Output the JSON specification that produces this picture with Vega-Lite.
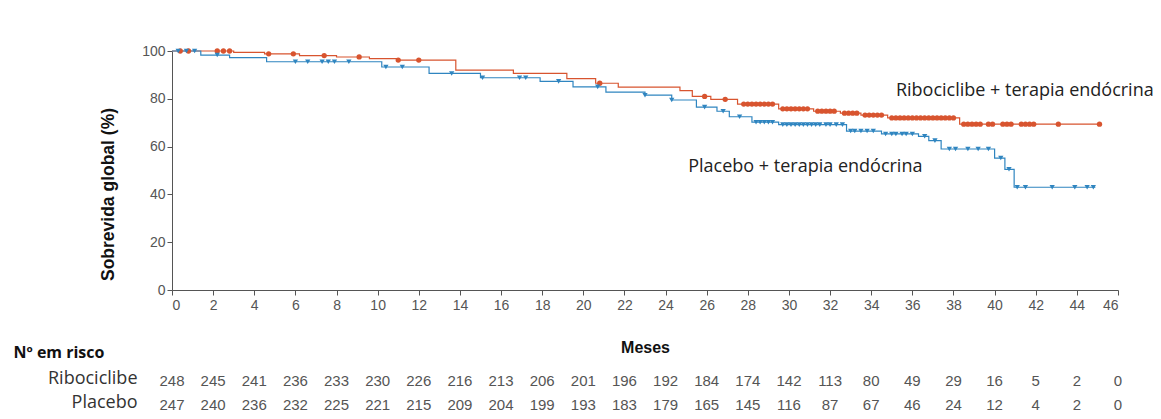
{
  "$schema": "https://vega.github.io/schema/vega-lite/v6.json",
  "padding": {"left": 13, "top": 44, "right": 0, "bottom": 0},
  "background": "white",
  "config": {"view": {"stroke": null}, "font": "Liberation Sans"},
  "spacing": -11,
  "datasets": {
    "steps": [
      {"group": "Ribociclibe", "month": 0, "surv": 100},
      {"group": "Ribociclibe", "month": 3.0, "surv": 99.4},
      {"group": "Ribociclibe", "month": 4.5, "surv": 98.8},
      {"group": "Ribociclibe", "month": 6.2, "surv": 98.1},
      {"group": "Ribociclibe", "month": 8.0, "surv": 97.5},
      {"group": "Ribociclibe", "month": 9.6, "surv": 96.8},
      {"group": "Ribociclibe", "month": 11.0, "surv": 96.2},
      {"group": "Ribociclibe", "month": 13.8, "surv": 92.0},
      {"group": "Ribociclibe", "month": 16.6, "surv": 90.6},
      {"group": "Ribociclibe", "month": 19.2, "surv": 88.4},
      {"group": "Ribociclibe", "month": 20.6, "surv": 86.5},
      {"group": "Ribociclibe", "month": 21.7, "surv": 84.9},
      {"group": "Ribociclibe", "month": 24.7, "surv": 83.4},
      {"group": "Ribociclibe", "month": 25.3, "surv": 81.0},
      {"group": "Ribociclibe", "month": 26.2, "surv": 79.8},
      {"group": "Ribociclibe", "month": 27.5, "surv": 77.8},
      {"group": "Ribociclibe", "month": 29.5, "surv": 75.8},
      {"group": "Ribociclibe", "month": 31.2, "surv": 74.8},
      {"group": "Ribociclibe", "month": 32.5, "surv": 74.0},
      {"group": "Ribociclibe", "month": 33.5, "surv": 73.2},
      {"group": "Ribociclibe", "month": 34.8, "surv": 72.0},
      {"group": "Ribociclibe", "month": 38.3, "surv": 69.4},
      {"group": "Ribociclibe", "month": 45.1, "surv": 69.4},
      {"group": "Placebo", "month": 0, "surv": 100},
      {"group": "Placebo", "month": 1.4, "surv": 98.3},
      {"group": "Placebo", "month": 2.8, "surv": 97.2},
      {"group": "Placebo", "month": 4.6, "surv": 95.5},
      {"group": "Placebo", "month": 10.2, "surv": 93.3},
      {"group": "Placebo", "month": 12.5, "surv": 90.6},
      {"group": "Placebo", "month": 15.0, "surv": 88.8},
      {"group": "Placebo", "month": 17.9, "surv": 87.3},
      {"group": "Placebo", "month": 19.5, "surv": 85.0},
      {"group": "Placebo", "month": 21.1, "surv": 82.8},
      {"group": "Placebo", "month": 23.0, "surv": 81.5},
      {"group": "Placebo", "month": 24.3, "surv": 79.5},
      {"group": "Placebo", "month": 25.5, "surv": 76.5},
      {"group": "Placebo", "month": 26.5, "surv": 74.8},
      {"group": "Placebo", "month": 27.1, "surv": 72.5},
      {"group": "Placebo", "month": 28.2, "surv": 70.2},
      {"group": "Placebo", "month": 29.5, "surv": 69.2},
      {"group": "Placebo", "month": 32.8, "surv": 66.5},
      {"group": "Placebo", "month": 34.5, "surv": 65.3},
      {"group": "Placebo", "month": 36.3, "surv": 64.3},
      {"group": "Placebo", "month": 36.8, "surv": 62.5},
      {"group": "Placebo", "month": 37.4, "surv": 59.0},
      {"group": "Placebo", "month": 40.0, "surv": 55.2},
      {"group": "Placebo", "month": 40.5, "surv": 50.5},
      {"group": "Placebo", "month": 40.95, "surv": 43.0},
      {"group": "Placebo", "month": 44.9, "surv": 43.0}
    ],
    "censor": [
      {"group": "Ribociclibe", "month": 0.4, "surv": 100},
      {"group": "Ribociclibe", "month": 0.8, "surv": 100},
      {"group": "Ribociclibe", "month": 2.2, "surv": 100},
      {"group": "Ribociclibe", "month": 2.5, "surv": 100},
      {"group": "Ribociclibe", "month": 2.8, "surv": 100},
      {"group": "Ribociclibe", "month": 4.7, "surv": 98.8},
      {"group": "Ribociclibe", "month": 5.9, "surv": 98.8},
      {"group": "Ribociclibe", "month": 7.4, "surv": 98.1},
      {"group": "Ribociclibe", "month": 9.1, "surv": 97.5},
      {"group": "Ribociclibe", "month": 11.0, "surv": 96.2},
      {"group": "Ribociclibe", "month": 12.0, "surv": 96.2},
      {"group": "Ribociclibe", "month": 20.8, "surv": 86.5},
      {"group": "Ribociclibe", "month": 25.9, "surv": 81.0},
      {"group": "Ribociclibe", "month": 26.9, "surv": 79.8},
      {"group": "Ribociclibe", "month": 27.8, "surv": 77.8},
      {"group": "Ribociclibe", "month": 28.0, "surv": 77.8},
      {"group": "Ribociclibe", "month": 28.2, "surv": 77.8},
      {"group": "Ribociclibe", "month": 28.4, "surv": 77.8},
      {"group": "Ribociclibe", "month": 28.6, "surv": 77.8},
      {"group": "Ribociclibe", "month": 28.8, "surv": 77.8},
      {"group": "Ribociclibe", "month": 29.0, "surv": 77.8},
      {"group": "Ribociclibe", "month": 29.2, "surv": 77.8},
      {"group": "Ribociclibe", "month": 29.7, "surv": 75.8},
      {"group": "Ribociclibe", "month": 29.9, "surv": 75.8},
      {"group": "Ribociclibe", "month": 30.1, "surv": 75.8},
      {"group": "Ribociclibe", "month": 30.3, "surv": 75.8},
      {"group": "Ribociclibe", "month": 30.5, "surv": 75.8},
      {"group": "Ribociclibe", "month": 30.7, "surv": 75.8},
      {"group": "Ribociclibe", "month": 30.9, "surv": 75.8},
      {"group": "Ribociclibe", "month": 31.4, "surv": 74.8},
      {"group": "Ribociclibe", "month": 31.6, "surv": 74.8},
      {"group": "Ribociclibe", "month": 31.8, "surv": 74.8},
      {"group": "Ribociclibe", "month": 32.0, "surv": 74.8},
      {"group": "Ribociclibe", "month": 32.2, "surv": 74.8},
      {"group": "Ribociclibe", "month": 32.7, "surv": 74.0},
      {"group": "Ribociclibe", "month": 32.9, "surv": 74.0},
      {"group": "Ribociclibe", "month": 33.1, "surv": 74.0},
      {"group": "Ribociclibe", "month": 33.3, "surv": 74.0},
      {"group": "Ribociclibe", "month": 33.7, "surv": 73.2},
      {"group": "Ribociclibe", "month": 33.9, "surv": 73.2},
      {"group": "Ribociclibe", "month": 34.1, "surv": 73.2},
      {"group": "Ribociclibe", "month": 34.3, "surv": 73.2},
      {"group": "Ribociclibe", "month": 34.5, "surv": 73.2},
      {"group": "Ribociclibe", "month": 35.0, "surv": 72.0},
      {"group": "Ribociclibe", "month": 35.2, "surv": 72.0},
      {"group": "Ribociclibe", "month": 35.4, "surv": 72.0},
      {"group": "Ribociclibe", "month": 35.6, "surv": 72.0},
      {"group": "Ribociclibe", "month": 35.8, "surv": 72.0},
      {"group": "Ribociclibe", "month": 36.0, "surv": 72.0},
      {"group": "Ribociclibe", "month": 36.2, "surv": 72.0},
      {"group": "Ribociclibe", "month": 36.4, "surv": 72.0},
      {"group": "Ribociclibe", "month": 36.6, "surv": 72.0},
      {"group": "Ribociclibe", "month": 36.8, "surv": 72.0},
      {"group": "Ribociclibe", "month": 37.0, "surv": 72.0},
      {"group": "Ribociclibe", "month": 37.2, "surv": 72.0},
      {"group": "Ribociclibe", "month": 37.4, "surv": 72.0},
      {"group": "Ribociclibe", "month": 37.6, "surv": 72.0},
      {"group": "Ribociclibe", "month": 37.8, "surv": 72.0},
      {"group": "Ribociclibe", "month": 38.0, "surv": 72.0},
      {"group": "Ribociclibe", "month": 38.5, "surv": 69.4},
      {"group": "Ribociclibe", "month": 38.7, "surv": 69.4},
      {"group": "Ribociclibe", "month": 38.9, "surv": 69.4},
      {"group": "Ribociclibe", "month": 39.1, "surv": 69.4},
      {"group": "Ribociclibe", "month": 39.3, "surv": 69.4},
      {"group": "Ribociclibe", "month": 39.7, "surv": 69.4},
      {"group": "Ribociclibe", "month": 39.9, "surv": 69.4},
      {"group": "Ribociclibe", "month": 40.4, "surv": 69.4},
      {"group": "Ribociclibe", "month": 40.6, "surv": 69.4},
      {"group": "Ribociclibe", "month": 40.8, "surv": 69.4},
      {"group": "Ribociclibe", "month": 41.3, "surv": 69.4},
      {"group": "Ribociclibe", "month": 41.5, "surv": 69.4},
      {"group": "Ribociclibe", "month": 41.7, "surv": 69.4},
      {"group": "Ribociclibe", "month": 41.9, "surv": 69.4},
      {"group": "Ribociclibe", "month": 43.1, "surv": 69.4},
      {"group": "Ribociclibe", "month": 45.1, "surv": 69.4},
      {"group": "Placebo", "month": 0.3, "surv": 100},
      {"group": "Placebo", "month": 0.7, "surv": 100},
      {"group": "Placebo", "month": 1.1, "surv": 100},
      {"group": "Placebo", "month": 2.2, "surv": 98.3},
      {"group": "Placebo", "month": 6.0, "surv": 95.5},
      {"group": "Placebo", "month": 6.6, "surv": 95.5},
      {"group": "Placebo", "month": 7.3, "surv": 95.5},
      {"group": "Placebo", "month": 7.6, "surv": 95.5},
      {"group": "Placebo", "month": 7.9, "surv": 95.5},
      {"group": "Placebo", "month": 8.6, "surv": 95.5},
      {"group": "Placebo", "month": 10.4, "surv": 93.3},
      {"group": "Placebo", "month": 11.2, "surv": 93.3},
      {"group": "Placebo", "month": 13.6, "surv": 90.6},
      {"group": "Placebo", "month": 15.1, "surv": 88.8},
      {"group": "Placebo", "month": 16.9, "surv": 88.8},
      {"group": "Placebo", "month": 17.2, "surv": 88.8},
      {"group": "Placebo", "month": 18.8, "surv": 87.3},
      {"group": "Placebo", "month": 20.7, "surv": 85.0},
      {"group": "Placebo", "month": 23.0, "surv": 81.5},
      {"group": "Placebo", "month": 24.3, "surv": 79.5},
      {"group": "Placebo", "month": 25.9, "surv": 76.5},
      {"group": "Placebo", "month": 26.8, "surv": 74.8},
      {"group": "Placebo", "month": 27.6, "surv": 72.5},
      {"group": "Placebo", "month": 28.4, "surv": 70.2},
      {"group": "Placebo", "month": 28.6, "surv": 70.2},
      {"group": "Placebo", "month": 28.8, "surv": 70.2},
      {"group": "Placebo", "month": 29.0, "surv": 70.2},
      {"group": "Placebo", "month": 29.2, "surv": 70.2},
      {"group": "Placebo", "month": 29.7, "surv": 69.2},
      {"group": "Placebo", "month": 29.9, "surv": 69.2},
      {"group": "Placebo", "month": 30.1, "surv": 69.2},
      {"group": "Placebo", "month": 30.3, "surv": 69.2},
      {"group": "Placebo", "month": 30.5, "surv": 69.2},
      {"group": "Placebo", "month": 30.7, "surv": 69.2},
      {"group": "Placebo", "month": 30.9, "surv": 69.2},
      {"group": "Placebo", "month": 31.1, "surv": 69.2},
      {"group": "Placebo", "month": 31.3, "surv": 69.2},
      {"group": "Placebo", "month": 31.5, "surv": 69.2},
      {"group": "Placebo", "month": 31.8, "surv": 69.2},
      {"group": "Placebo", "month": 32.0, "surv": 69.2},
      {"group": "Placebo", "month": 32.3, "surv": 69.2},
      {"group": "Placebo", "month": 32.6, "surv": 69.2},
      {"group": "Placebo", "month": 33.0, "surv": 66.5},
      {"group": "Placebo", "month": 33.2, "surv": 66.5},
      {"group": "Placebo", "month": 33.5, "surv": 66.5},
      {"group": "Placebo", "month": 33.8, "surv": 66.5},
      {"group": "Placebo", "month": 34.1, "surv": 66.5},
      {"group": "Placebo", "month": 34.7, "surv": 65.3},
      {"group": "Placebo", "month": 35.0, "surv": 65.3},
      {"group": "Placebo", "month": 35.2, "surv": 65.3},
      {"group": "Placebo", "month": 35.5, "surv": 65.3},
      {"group": "Placebo", "month": 35.7, "surv": 65.3},
      {"group": "Placebo", "month": 36.0, "surv": 65.3},
      {"group": "Placebo", "month": 36.6, "surv": 64.3},
      {"group": "Placebo", "month": 37.1, "surv": 62.5},
      {"group": "Placebo", "month": 37.8, "surv": 59.0},
      {"group": "Placebo", "month": 38.1, "surv": 59.0},
      {"group": "Placebo", "month": 38.7, "surv": 59.0},
      {"group": "Placebo", "month": 39.2, "surv": 59.0},
      {"group": "Placebo", "month": 39.7, "surv": 59.0},
      {"group": "Placebo", "month": 40.3, "surv": 55.2},
      {"group": "Placebo", "month": 40.7, "surv": 50.5},
      {"group": "Placebo", "month": 41.1, "surv": 43.0},
      {"group": "Placebo", "month": 41.5, "surv": 43.0},
      {"group": "Placebo", "month": 42.8, "surv": 43.0},
      {"group": "Placebo", "month": 43.9, "surv": 43.0},
      {"group": "Placebo", "month": 44.5, "surv": 43.0},
      {"group": "Placebo", "month": 44.8, "surv": 43.0}
    ],
    "labels": [
      {"month": 35.2, "surv": 83.3, "label": "Ribociclibe + terapia endócrina"},
      {"month": 25.1, "surv": 51.5, "label": "Placebo + terapia endócrina"}
    ],
    "risk": [
      {"group": "Ribociclibe", "month": 0, "n": 248},
      {"group": "Ribociclibe", "month": 2, "n": 245},
      {"group": "Ribociclibe", "month": 4, "n": 241},
      {"group": "Ribociclibe", "month": 6, "n": 236},
      {"group": "Ribociclibe", "month": 8, "n": 233},
      {"group": "Ribociclibe", "month": 10, "n": 230},
      {"group": "Ribociclibe", "month": 12, "n": 226},
      {"group": "Ribociclibe", "month": 14, "n": 216},
      {"group": "Ribociclibe", "month": 16, "n": 213},
      {"group": "Ribociclibe", "month": 18, "n": 206},
      {"group": "Ribociclibe", "month": 20, "n": 201},
      {"group": "Ribociclibe", "month": 22, "n": 196},
      {"group": "Ribociclibe", "month": 24, "n": 192},
      {"group": "Ribociclibe", "month": 26, "n": 184},
      {"group": "Ribociclibe", "month": 28, "n": 174},
      {"group": "Ribociclibe", "month": 30, "n": 142},
      {"group": "Ribociclibe", "month": 32, "n": 113},
      {"group": "Ribociclibe", "month": 34, "n": 80},
      {"group": "Ribociclibe", "month": 36, "n": 49},
      {"group": "Ribociclibe", "month": 38, "n": 29},
      {"group": "Ribociclibe", "month": 40, "n": 16},
      {"group": "Ribociclibe", "month": 42, "n": 5},
      {"group": "Ribociclibe", "month": 44, "n": 2},
      {"group": "Ribociclibe", "month": 46, "n": 0},
      {"group": "Placebo", "month": 0, "n": 247},
      {"group": "Placebo", "month": 2, "n": 240},
      {"group": "Placebo", "month": 4, "n": 236},
      {"group": "Placebo", "month": 6, "n": 232},
      {"group": "Placebo", "month": 8, "n": 225},
      {"group": "Placebo", "month": 10, "n": 221},
      {"group": "Placebo", "month": 12, "n": 215},
      {"group": "Placebo", "month": 14, "n": 209},
      {"group": "Placebo", "month": 16, "n": 204},
      {"group": "Placebo", "month": 18, "n": 199},
      {"group": "Placebo", "month": 20, "n": 193},
      {"group": "Placebo", "month": 22, "n": 183},
      {"group": "Placebo", "month": 24, "n": 179},
      {"group": "Placebo", "month": 26, "n": 165},
      {"group": "Placebo", "month": 28, "n": 145},
      {"group": "Placebo", "month": 30, "n": 116},
      {"group": "Placebo", "month": 32, "n": 87},
      {"group": "Placebo", "month": 34, "n": 67},
      {"group": "Placebo", "month": 36, "n": 46},
      {"group": "Placebo", "month": 38, "n": 24},
      {"group": "Placebo", "month": 40, "n": 12},
      {"group": "Placebo", "month": 42, "n": 4},
      {"group": "Placebo", "month": 44, "n": 2},
      {"group": "Placebo", "month": 46, "n": 0}
    ]
  },
  "vconcat": [
    {
      "width": 946,
      "height": 239,
      "encoding": {
        "x": {
          "field": "month", "type": "quantitative",
          "scale": {"domain": [0, 46], "nice": false, "zero": false},
          "axis": {
            "title": "Meses", "values": [0,2,4,6,8,10,12,14,16,18,20,22,24,26,28,30,32,34,36,38,40,42,44,46],
            "grid": false, "domainColor": "#555", "tickColor": "#555", "tickSize": 5,
            "labelColor": "#555", "labelFontSize": 14, "labelPadding": 3,
            "titleFontSize": 16, "titleFontWeight": "bold", "titleColor": "#111",
            "titleX": 473, "titleY": 57, "titleBaseline": "middle", "titleAlign": "center"
          }
        },
        "y": {
          "field": "surv", "type": "quantitative",
          "scale": {"domain": [0, 100], "nice": false},
          "axis": {
            "title": "Sobrevida global (%)", "values": [0, 20, 40, 60, 80, 100],
            "grid": false, "domainColor": "#555", "tickColor": "#555", "tickSize": 5,
            "labelColor": "#555", "labelFontSize": 14, "labelPadding": 2,
            "titleFontSize": 17.5, "titleFontWeight": "bold", "titleColor": "#111",
            "titleX": -64, "titleY": 143, "titleAlign": "center", "titleBaseline": "middle"
          }
        }
      },
      "layer": [
        {
          "data": {"name": "steps"},
          "mark": {"type": "line", "interpolate": "step-after", "strokeWidth": 1.2},
          "encoding": {
            "detail": {"field": "group"},
            "color": {"field": "group", "type": "nominal", "scale": {"domain": ["Ribociclibe", "Placebo"], "range": ["#d8542f", "#2f85c0"]}, "legend": null}
          }
        },
        {
          "data": {"name": "censor"},
          "mark": {"type": "point", "filled": true, "opacity": 1, "size": 28},
          "encoding": {
            "color": {"field": "group", "type": "nominal", "scale": {"domain": ["Ribociclibe", "Placebo"], "range": ["#d8542f", "#2f85c0"]}, "legend": null},
            "shape": {"field": "group", "type": "nominal", "scale": {"domain": ["Ribociclibe", "Placebo"], "range": ["circle", "triangle-down"]}, "legend": null}
          }
        },
        {
          "data": {"name": "labels"},
          "mark": {"type": "text", "align": "left", "baseline": "middle", "fontSize": 18, "font": "Open Sans", "color": "#222"},
          "encoding": {"text": {"field": "label"}}
        }
      ]
    },
    {
      "width": 946,
      "height": 48,
      "data": {"name": "risk"},
      "mark": {"type": "text", "fontSize": 15, "color": "#555", "baseline": "middle", "dy": 3},
      "encoding": {
        "x": {"field": "month", "type": "quantitative", "scale": {"domain": [0, 46], "nice": false, "zero": false}, "axis": null},
        "y": {
          "field": "group", "type": "nominal", "sort": ["Ribociclibe", "Placebo"],
          "axis": {
            "title": "Nº em risco", "domain": false, "ticks": false, "labelPadding": 35,
            "labelFontSize": 18, "labelColor": "#333", "labelFont": "Open Sans",
            "titleAngle": 0, "titleAlign": "left", "titleBaseline": "middle", "titleX": -159, "titleY": -14,
            "titleFontSize": 16, "titleFontWeight": "bold", "titleColor": "#111", "titleFont": "Open Sans"
          }
        },
        "text": {"field": "n", "type": "quantitative"}
      }
    }
  ]
}
